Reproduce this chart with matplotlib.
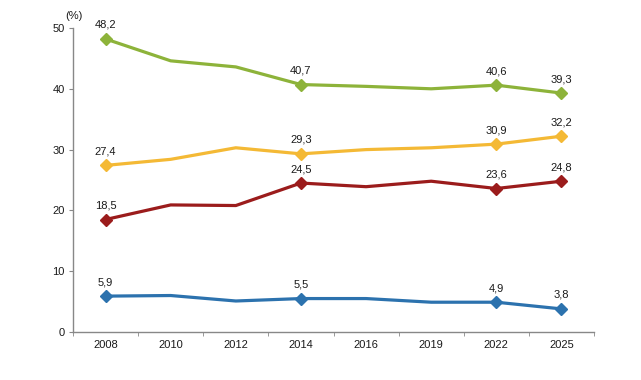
import matplotlib
matplotlib.use("Agg")
import matplotlib.pyplot as plt
import numpy as np

plt.rcParams['font.family'] = ['Liberation Sans', 'DejaVu Sans']

years = ["2008", "2010", "2012", "2014", "2016", "2019", "2022", "2025"]
green = [48.2, 44.6, 43.6, 40.7, 40.4, 40.0, 40.6, 39.3]
yellow = [27.4, 28.4, 30.3, 29.3, 30.0, 30.3, 30.9, 32.2]
red = [18.5, 20.9, 20.8, 24.5, 23.9, 24.8, 23.6, 24.8]
blue = [5.9, 6.0, 5.1, 5.5, 5.5, 4.9, 4.9, 3.8]
labeled_idx = [0, 3, 6, 7]

series = [(green, "#8db33a"), (yellow, "#f4b935"), (red, "#9b1c1c"), (blue, "#2c72ae")]

fig = plt.figure(figsize=(6.41, 3.80), dpi=100)
ax = fig.add_axes([73/641, 48/380, 521/641, 304/380])

x = np.arange(len(years))
for vals, col in series:
    ax.plot(x, vals, color=col, lw=2.3, solid_joinstyle='round', zorder=2)
    xm = [x[i] for i in labeled_idx]
    ym = [vals[i] for i in labeled_idx]
    ax.plot(xm, ym, linestyle='none', marker='D', ms=6.5, color=col, zorder=3)
    for i in labeled_idx:
        ax.annotate(f"{vals[i]:.1f}".replace('.', ','), (x[i], vals[i]),
                    xytext=(0, 6.5), textcoords='offset points', ha='center',
                    va='bottom', fontsize=8, color='#1a1a1a')

ax.set_xlim(-0.5, len(years) - 0.5)
ax.set_ylim(0, 50)
ax.set_yticks([0, 10, 20, 30, 40, 50])
ax.set_xticks(x)
ax.set_xticklabels(years)
ax.set_xticks(np.arange(-0.5, len(years)), minor=True)
ax.tick_params(axis='x', which='major', length=0, pad=6, labelsize=8, labelcolor='#1a1a1a')
ax.tick_params(axis='x', which='minor', length=3, color='#888888')
ax.tick_params(axis='y', length=3, color='#888888', labelsize=8, labelcolor='#1a1a1a', pad=3)
for s in ['top', 'right']:
    ax.spines[s].set_visible(False)
for s in ['left', 'bottom']:
    ax.spines[s].set_color('#888888')
    ax.spines[s].set_linewidth(1)

fig.text(74/641, 1 - 16/380, "(%)", ha='center', va='center', fontsize=8, color='#1a1a1a')

fig.savefig("out.png", dpi=100)
